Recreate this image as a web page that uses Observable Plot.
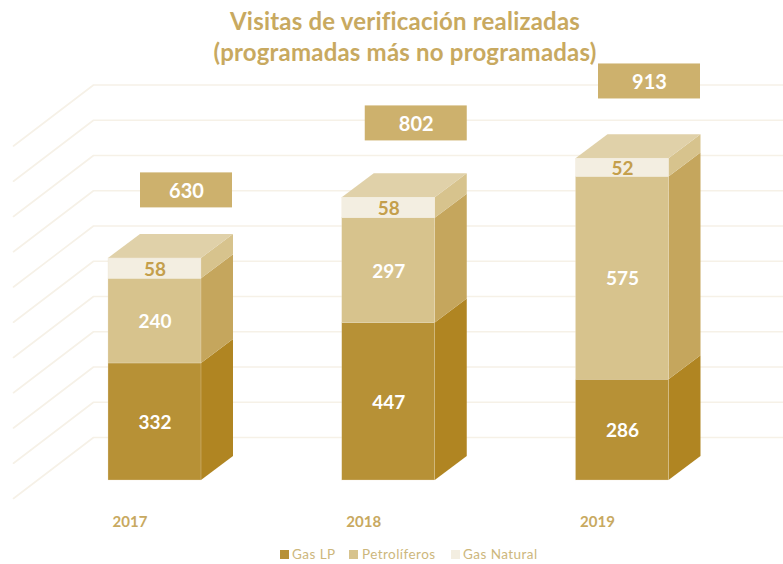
<!DOCTYPE html>
<html><head><meta charset="utf-8">
<script src="https://cdn.jsdelivr.net/npm/d3@7"></script>
<script src="https://cdn.jsdelivr.net/npm/@observablehq/plot@0.6"></script>
<style>
html,body{margin:0;padding:0;background:#fff;overflow:hidden}
body{width:783px;height:564px;position:relative;font-family:Lato,sans-serif}
#title{position:absolute;left:0;top:5px;width:810px;text-align:center;color:#C8A960;font-weight:700;font-size:24px;line-height:31px;letter-spacing:.2px;z-index:2}
#chart{position:absolute;left:0;top:62px}
#legend{position:absolute;left:0;top:545px;width:783px;height:19px;color:#CDB77C;font-size:13.5px;letter-spacing:.45px;line-height:19px}
#legend i{position:absolute;top:5px;width:9px;height:9px}
#legend span{position:absolute;top:0}
svg text{font-family:Lato,sans-serif}
</style></head><body>
<div id="title">Visitas de verificación realizadas<br>(programadas más no programadas)</div>
<div id="chart"></div>
<div id="legend"></div>
<script>
const years = [2017, 2018, 2019];
const gasLP = [332, 447, 286];
const petroliferos = [240, 297, 575];
const gasNatural = [58, 58, 52];
const totals = [630, 802, 913];
const gridValues = [0,100,200,300,400,500,600,700,800,900,1000];
const seriesNames = ["Gas LP", "Petrolíferos", "Gas Natural"];

// styles and projection of the pseudo-3D view
const frontColors = ["#B79136", "#D7C38D", "#F3EEE1"];
const sideColors = ["#B08522", "#C5A65D", "#D7C38D"];
const topColor = "#E0D1A9", boxColor = "#CDB16D", gridColor = "#F6F1E7", accent = "#C49F4C";
const pxX = 1 / 233.75, pxY = 1 / 0.3525;
const halfBar = 46.5 * pxX, depthX = 32 * pxX, depthY = 24 * pxY;
const boxShift = [31.5 * pxX, 27.5 * pxX, 27 * pxX];
const boxLift = [193, 211, 219];
const boxHalfW = [46 * pxX, 51 * pxX, 51 * pxX];
const boxHalfH = 17.5 * pxY;

const series = [gasLP, petroliferos, gasNatural];
const segs = [];
years.forEach((year, i) => {
  let base = 0;
  series.forEach((vals, s) => {
    segs.push({year, s, value: vals[i], y1: base, y2: base + vals[i], x1: year - halfBar, x2: year + halfBar, key: year + "-" + s});
    base += vals[i];
  });
});
const sides = segs.flatMap(d => [
  {x: d.x2, y1: d.y1, y2: d.y2, key: d.key, fill: sideColors[d.s]},
  {x: d.x2 + depthX, y1: d.y1 + depthY, y2: d.y2 + depthY, key: d.key, fill: sideColors[d.s]}
]);
const tops = years.flatMap((year, i) => [
  {y: totals[i], x1: year - halfBar, x2: year + halfBar, year},
  {y: totals[i] + depthY, x1: year - halfBar + depthX, x2: year + halfBar + depthX, year}
]);
const boxes = years.map((year, i) => ({
  total: totals[i],
  cx: year + boxShift[i], cy: totals[i] + boxLift[i],
  x1: year + boxShift[i] - boxHalfW[i], x2: year + boxShift[i] + boxHalfW[i],
  y1: totals[i] + boxLift[i] - boxHalfH, y2: totals[i] + boxLift[i] + boxHalfH
}));
// floor offsets of the wall and floor gridlines
const wallX = 2017 - 61.5 * pxX, floorX = 2017 - 141.5 * pxX, rightX = 2020;
const wallLift = 43 * pxY, floorDrop = -18 * pxY;
const grid = gridValues.flatMap(v => [
  {x: floorX, y: v + floorDrop, v},
  {x: wallX, y: v + wallLift, v},
  {x: rightX, y: v + wallLift, v}
]);

const plot = Plot.plot({
  width: 783, height: 478,
  marginLeft: 0, marginRight: 0, marginTop: 0, marginBottom: 22,
  x: {domain: [2017, 2019], range: [154.5, 622], axis: null},
  y: {domain: [0, 1000], range: [418, 65.5], axis: null},
  color: {type: "identity"},
  marks: [
    Plot.line(grid, {x: "x", y: "y", z: "v", stroke: gridColor, strokeWidth: 1.6}),
    Plot.areaY(sides, {x: "x", y1: "y1", y2: "y2", z: "key", fill: "fill"}),
    Plot.areaX(tops, {y: "y", x1: "x1", x2: "x2", z: "year", fill: topColor}),
    Plot.rect(segs, {x1: "x1", x2: "x2", y1: "y1", y2: "y2", fill: d => frontColors[d.s], stroke: "#EFE7D2", strokeWidth: 0.4, strokeOpacity: 0.7}),
    Plot.rect(boxes, {x1: "x1", x2: "x2", y1: "y1", y2: "y2", fill: boxColor}),
    Plot.text(segs, {x: "year", y: d => (d.y1 + d.y2) / 2, text: "value", dy: 1, fill: d => d.s === 2 ? accent : "#fff", fontSize: 19, fontWeight: 700}),
    Plot.text(boxes, {x: "cx", y: "cy", text: "total", fill: "#fff", fontSize: 20, fontWeight: 700, dy: 1}),
    Plot.axisX({ticks: years, tickFormat: "d", tickSize: 0, tickPadding: 0, dx: -25, dy: -2, fill: "#C8A960", fontSize: 15, fontWeight: 700, label: null})
  ]
});
document.getElementById("chart").append(plot);

const legendAt = [[280, 292], [349, 362], [451, 463]];
const legend = document.getElementById("legend");
seriesNames.forEach((name, i) => {
  const sw = document.createElement("i");
  sw.style.left = legendAt[i][0] + "px";
  sw.style.background = frontColors[i];
  const t = document.createElement("span");
  t.style.left = legendAt[i][1] + "px";
  t.textContent = name;
  legend.append(sw, t);
});
</script>
</body></html>
